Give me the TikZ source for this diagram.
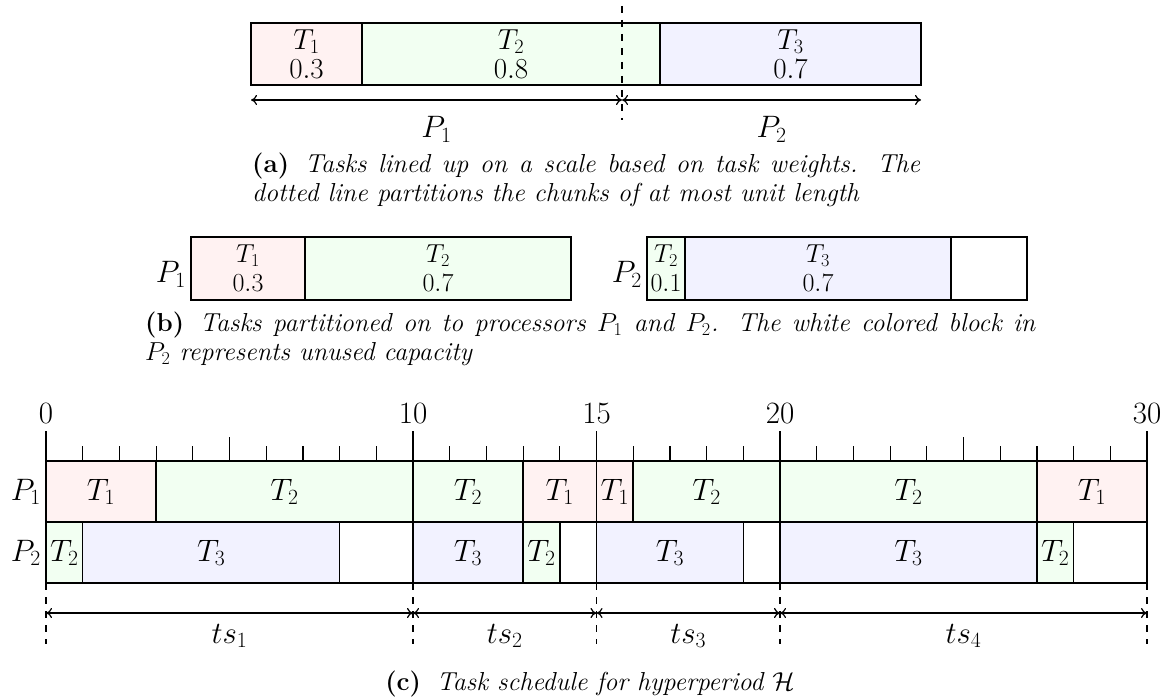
\RequirePackage{fix-cm}
\documentclass[tikz,border=0pt]{standalone}
\usetikzlibrary{arrows.meta}
\newcommand\fsA{\fontsize{29}{29}\selectfont}
\newcommand\fsB{\fontsize{26}{29}\selectfont}
\newcommand\fsL{\fontsize{31}{37}\selectfont}
\newcommand\fsCap{\fontsize{26}{29}\selectfont}
\begin{document}
\begin{tikzpicture}[x=1pt,y=-1pt,
  cell/.style={draw=black,line width=1.5pt},
  ta/.style={fill=red!5},
  tb/.style={fill=green!5},
  tc/.style={fill=blue!5},
  te/.style={fill=white},
  boxA/.style={inner sep=0pt,align=center,font=\fsA},
  boxB/.style={inner sep=0pt,align=center,font=\fsB},
  lab/.style={inner sep=0pt,anchor=base,font=\fsL},
  captext/.style={inner sep=0pt,anchor=base west,font=\fsCap},
  tickline/.style={line width=1.2pt},
  dashline/.style={line width=1.2pt,dash pattern=on 7pt off 7pt},
  dim/.style={line width=1.2pt,{To[length=6pt,width=10pt]}-{To[length=6pt,width=10pt]}}
]
\useasboundingbox (0,0) rectangle (1175,700);

% ---------------- (a)
\draw[cell,ta] (251,23) rectangle (362,85);
\node[boxA] (a1) at (306.5,54) {$T_1$\\$0.3$};
\draw[cell,tb] (362,23) rectangle (660,85);
\node[boxA] (a2) at (511,54) {$T_2$\\$0.8$};
\draw[cell,tc] (660,23) rectangle (921,85);
\node[boxA] (a3) at (790.5,54) {$T_3$\\$0.7$};
\coordinate (cutT) at (622,6);
\coordinate (cutB) at (622,120);
\draw[dashline] (cutT) -- (cutB);
\coordinate (aL) at (251,100);
\coordinate (aM) at (622,100);
\coordinate (aR) at (921,100);
\draw[dim] (aL) -- (aM);
\draw[dim] (aM) -- (aR);
\node[lab] (aP1) at (436.5,138) {$P_1$};
\node[lab] (aP2) at (771.5,138) {$P_2$};

\node[captext] (capa1) at (252,173) {\makebox[668pt][s]{\textbf{(a)}\hspace{0.6em}\itshape Tasks lined up on a scale based on task weights. The}};
\node[captext] (capa2) at (252,202) {\itshape dotted line partitions the chunks of at most unit length};

% ---------------- (b)
\node[lab,anchor=base east] (bP1) at (186,283) {$P_1$};
\draw[cell,ta] (191,237) rectangle (305,300);
\node[boxB] (b1) at (248,268.5) {$T_1$\\$0.3$};
\draw[cell,tb] (305,237) rectangle (571,300);
\node[boxB] (b2) at (438,268.5) {$T_2$\\$0.7$};

\node[lab,anchor=base east] (bP2) at (642,283) {$P_2$};
\draw[cell,tb] (647,237) rectangle (685,300);
\node[boxB] (b3) at (666,268.5) {$T_2$\\$0.1$};
\draw[cell,tc] (685,237) rectangle (951,300);
\node[boxB] (b4) at (818,268.5) {$T_3$\\$0.7$};
\draw[cell,te] (951,237) rectangle (1027,300);

\node[captext] (capb1) at (145,332) {\makebox[890pt][s]{\textbf{(b)}\hspace{0.6em}\itshape Tasks partitioned on to processors $P_1$ and $P_2$. The white colored block in}};
\node[captext] (capb2) at (145,361) {\itshape $P_2$ represents unused capacity};

% ---------------- (c)
\foreach \t in {0,10,15,20,30} {
  \node[lab] (n\t) at ({46+36.7*\t},423) {\t};
  \draw[tickline] ({46+36.7*\t},431) -- ({46+36.7*\t},461);
}
\foreach \t in {5,25}
  \draw[tickline] ({46+36.7*\t},437) -- ({46+36.7*\t},461);
\foreach \t in {1,2,3,4,6,7,8,9,11,12,13,14,16,17,18,19,21,22,23,24,26,27,28,29}
  \draw[tickline] ({46+36.7*\t},446) -- ({46+36.7*\t},461);

\foreach \a/\b/\s/\l [count=\i] in {0/3/ta/$T_1$,3/10/tb/$T_2$,10/13/tb/$T_2$,13/15/ta/$T_1$,15/16/ta/$T_1$,16/20/tb/$T_2$,20/27/tb/$T_2$,27/30/ta/$T_1$} {
  \draw[cell,\s] ({46+36.7*\a},461) rectangle ({46+36.7*\b},522);
  \node[lab] (pa\i) at ({46+36.7*(\a+\b)/2},500) {\l};
}
\foreach \a/\b/\s/\l [count=\i] in {0/1/tb/$T_2$,1/8/tc/$T_3$,8/10/te/{},10/13/tc/$T_3$,13/14/tb/$T_2$,14/15/te/{},15/19/tc/$T_3$,19/20/te/{},20/27/tc/$T_3$,27/28/tb/$T_2$,28/30/te/{}} {
  \draw[cell,\s] ({46+36.7*\a},522) rectangle ({46+36.7*\b},583);
  \node[lab] (pb\i) at ({46+36.7*(\a+\b)/2},561) {\l};
}
\node[lab,anchor=base east] (cP1) at (41,500) {$P_1$};
\node[lab,anchor=base east] (cP2) at (41,561) {$P_2$};

\foreach \t in {0,10,15,20,30} {
  \coordinate (dt\t) at ({46+36.7*\t},583);
  \coordinate (db\t) at ({46+36.7*\t},644);
  \coordinate (m\t) at ({46+36.7*\t},613);
  \draw[dashline] (dt\t) -- (db\t);
}
\draw[dim] (m0) -- (m10);
\draw[dim] (m10) -- (m15);
\draw[dim] (m15) -- (m20);
\draw[dim] (m20) -- (m30);
\node[lab] (ts1) at ({46+36.7*5},643) {$ts_1$};
\node[lab] (ts2) at ({46+36.7*12.5},643) {$ts_2$};
\node[lab] (ts3) at ({46+36.7*17.5},643) {$ts_3$};
\node[lab] (ts4) at ({46+36.7*25},643) {$ts_4$};

\node[lab,font=\fsCap] (capc) at (590,690) {\textbf{(c)}\hspace{0.6em}\itshape Task schedule for hyperperiod $\mathcal{H}$};
\end{tikzpicture}
\end{document}
